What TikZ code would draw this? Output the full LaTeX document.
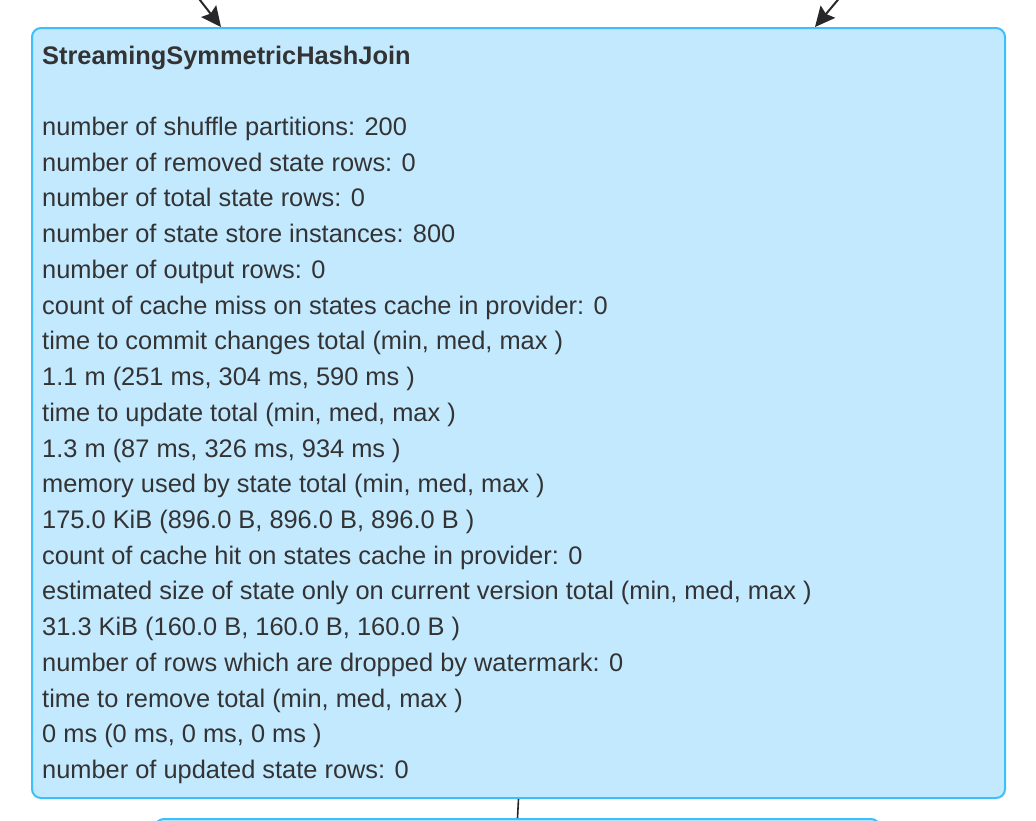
\documentclass[tikz,border=0pt]{standalone}
\usepackage{fontspec}
\setmainfont{Liberation Sans}
\usetikzlibrary{arrows.meta,positioning}
\definecolor{sqlfill}{RGB}{195,233,255}
\definecolor{sqlborder}{RGB}{62,190,250}
\definecolor{sqltext}{RGB}{51,51,51}
\definecolor{sqlwire}{RGB}{40,40,40}
\tikzset{
  sqlbox/.style={draw=sqlborder, line width=2pt, rounded corners=9pt, fill=sqlfill, inner sep=0pt},
  sqllabel/.style={text=sqltext, align=left, inner sep=0pt, font=\fontsize{25.4}{35.72}\selectfont},
  sqlarr/.style={-{Stealth[length=20pt, width=19pt, inset=3pt]}, line width=2pt, draw=sqlwire},
  sqledge/.style={line width=1.6pt, draw=sqlwire}
}
\begin{document}
\begin{tikzpicture}[x=1pt, y=-1pt]
  \clip (0,0) rectangle (1036,820);
  \fill[white] (0,0) rectangle (1036,820);
  \node[sqlbox, anchor=north west, minimum width=973pt, minimum height=770pt] (shj) at (31,27) {};
  \node[sqlbox, anchor=north, minimum width=725pt, minimum height=60pt] (project) at (517.5,818) {};
  \node[sqllabel, anchor=north west] (shjtext) at (42,45.5) {%
    \textbf{StreamingSymmetricHashJoin}\\[35.72pt]
    number of shuffle partitions: 200\\
    number of removed state rows: 0\\
    number of total state rows: 0\\
    number of state store instances: 800\\
    number of output rows: 0\\
    count of cache miss on states cache in provider: 0\\
    time to commit changes total (min, med, max )\\
    1.1 m (251 ms, 304 ms, 590 ms )\\
    time to update total (min, med, max )\\
    1.3 m (87 ms, 326 ms, 934 ms )\\
    memory used by state total (min, med, max )\\
    175.0 KiB (896.0 B, 896.0 B, 896.0 B )\\
    count of cache hit on states cache in provider: 0\\
    estimated size of state only on current version total (min, med, max )\\
    31.3 KiB (160.0 B, 160.0 B, 160.0 B )\\
    number of rows which are dropped by watermark: 0\\
    time to remove total (min, med, max )\\
    0 ms (0 ms, 0 ms, 0 ms )\\
    number of updated state rows: 0};
  % incoming edges from the two join sides
  \coordinate (leftside) at (196,-5);
  \coordinate (rightside) at (842,-5);
  \draw[sqlarr] (leftside) -- ([xshift=190pt]shj.north west);
  \draw[sqlarr] (rightside) -- ([xshift=784pt]shj.north west);
  \draw[sqledge] (shj.south) -- (project.north);
\end{tikzpicture}
\end{document}
